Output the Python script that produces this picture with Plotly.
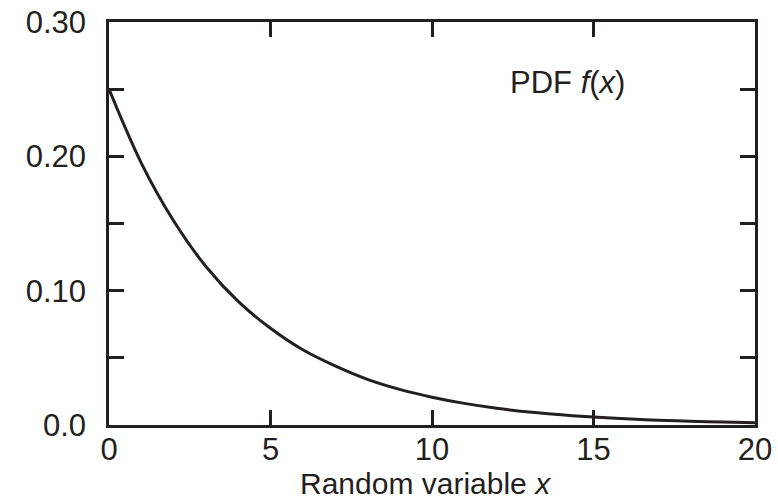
import plotly.graph_objects as go

# Values
x_vals = [0, 1, 2, 3, 4, 5, 6, 7, 8, 9, 10, 11, 12, 13, 14, 15, 16, 17, 18, 19, 20]
pdf_vals = [0.250, 0.195, 0.152, 0.118, 0.092, 0.072, 0.056, 0.044, 0.034, 0.0265,
            0.0207, 0.0161, 0.0125, 0.0097, 0.0076, 0.0059, 0.0046, 0.0036, 0.0028,
            0.0022, 0.0017]

x_ticks = [0, 5, 10, 15, 20]
x_ticklabels = ["0", "5", "10", "15", "20"]
y_ticks = [0.0, 0.05, 0.10, 0.15, 0.20, 0.25, 0.30]
y_ticklabels = ["0.0", "", "0.10", "", "0.20", "", "0.30"]

INK = "#231f20"
FONT = "Liberation Sans, Arial, sans-serif"

fig = go.Figure()
fig.add_trace(go.Scatter(
    x=x_vals, y=pdf_vals, mode="lines",
    line=dict(color=INK, width=3, shape="spline", smoothing=1.0),
    showlegend=False, hoverinfo="skip",
))

fig.add_annotation(
    x=14.18, y=0.255, xref="x", yref="y",
    text="PDF <i>f</i>(<i>x</i>)", showarrow=False,
    xanchor="center", yanchor="middle",
    font=dict(family=FONT, size=31, color=INK),
)

fig.add_annotation(
    x=0.49, y=-0.19, xref="paper", yref="paper",
    text="Random variable <i>x</i>", showarrow=False,
    xanchor="center", yanchor="bottom",
    font=dict(family=FONT, size=30, color=INK),
)

axis_common = dict(
    showline=True, linecolor=INK, linewidth=2.5, mirror="ticks",
    ticks="inside", ticklen=15, tickwidth=2.5, tickcolor=INK,
    showgrid=False, zeroline=False,
    tickfont=dict(family=FONT, size=31, color=INK),
)

fig.update_xaxes(
    range=[0, 20], tickmode="array", tickvals=x_ticks, ticktext=x_ticklabels,
    ticklabelstandoff=-5,
    **axis_common,
)
fig.update_yaxes(
    range=[0, 0.30], tickmode="array", tickvals=y_ticks, ticktext=y_ticklabels,
    ticklabelstandoff=14,
    **axis_common,
)

fig.update_layout(
    width=778, height=502,
    margin=dict(l=109, r=23, t=22, b=77, autoexpand=False),
    paper_bgcolor="white", plot_bgcolor="white",
)

fig.write_html("out.html")
